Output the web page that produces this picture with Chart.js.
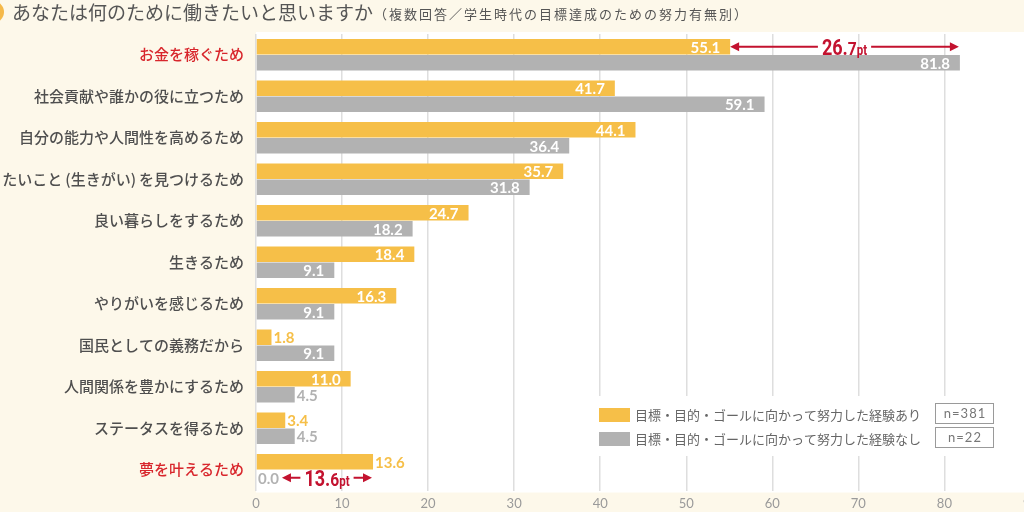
<!DOCTYPE html>
<html>
<head>
<meta charset="utf-8">
<script src="https://cdn.jsdelivr.net/npm/chart.js@4.4.1/dist/chart.umd.min.js"></script>
<style>
  html, body { margin: 0; padding: 0; width: 1024px; height: 512px; overflow: hidden; background: #fdf8ea; }
  #wrap { position: absolute; left: 0; top: 0; width: 1044px; height: 512px; }
</style>
</head>
<body>
<div id="wrap"><canvas id="barChart" width="1044" height="512" style="width:1044px;height:512px"></canvas></div>
<script>
const categories = [
    'お金を稼ぐため',
    '社会貢献や誰かの役に立つため',
    '自分の能力や人間性を高めるため',
    'やりたいこと\u2009(生きがい)\u2009を見つけるため',
    '良い暮らしをするため',
    '生きるため',
    'やりがいを感じるため',
    '国民としての義務だから',
    '人間関係を豊かにするため',
    'ステータスを得るため',
    '夢を叶えるため'
];
const withEffort = [55.1, 41.7, 44.1, 35.7, 24.7, 18.4, 16.3, 1.8, 11.0, 3.4, 13.6];
const withoutEffort = [81.8, 59.1, 36.4, 31.8, 18.2, 9.1, 9.1, 9.1, 4.5, 4.5, 0.0];
const seriesLabels = [
    '目標・目的・ゴールに向かって努力した経験あり',
    '目標・目的・ゴールに向かって努力した経験なし'
];
const sampleSizes = [381, 22];
const highlighted = [0, 10];
const xMax = 90;
const xStep = 10;

const titleMain = 'あなたは何のために働きたいと思いますか';
const titleSub = '（複数回答／学生時代の目標達成のための努力有無別）';

const seriesColors = ['#f6bf48', '#b2b2b2'];
const accent = '#c3122f';
const jpFont = '"Noto Sans CJK JP", "Noto Sans", sans-serif';
const numFont = 'Lato, "Open Sans", sans-serif';

function labelWidth(chart, text) {
    const ctx = chart.ctx;
    ctx.save();
    ctx.font = 'bold 15px ' + numFont;
    const w = ctx.measureText(text).width;
    ctx.restore();
    return w;
}

// value label goes inside the bar when there is room, except the last row (its arrow sits there)
function labelInside(chart, di, i) {
    const bar = chart.getDatasetMeta(di).data[i];
    const tw = labelWidth(chart, chart.data.datasets[di].data[i].toFixed(1));
    return (bar.x - bar.base) > tw + 20 && i !== categories.length - 1;
}

const plotBackground = {
    id: 'plotBackground',
    beforeDraw(chart) {
        const { ctx, chartArea: a } = chart;
        ctx.save();
        ctx.fillStyle = '#ffffff';
        ctx.fillRect(a.left, a.top - 2, chart.width - a.left, a.bottom - a.top + 4);

        // title
        ctx.fillStyle = '#f5b94a';
        ctx.beginPath();
        ctx.arc(-7, 12, 11, 0, Math.PI * 2);
        ctx.fill();
        ctx.fillStyle = '#555555';
        ctx.textBaseline = 'middle';
        ctx.textAlign = 'left';
        ctx.font = '19px ' + jpFont;
        ctx.fillText(titleMain, 12, 13);
        const w = ctx.measureText(titleMain).width;
        ctx.font = '13px ' + jpFont;
        ctx.letterSpacing = '2px';
        ctx.fillText(titleSub, 12 + w + 1, 14);
        ctx.restore();
    }
};

const valueLabels = {
    id: 'valueLabels',
    afterDatasetsDraw(chart) {
        const ctx = chart.ctx;
        ctx.save();
        ctx.font = 'bold 15px ' + numFont;
        ctx.textBaseline = 'middle';
        chart.data.datasets.forEach((ds, di) => {
            chart.getDatasetMeta(di).data.forEach((bar, i) => {
                const text = ds.data[i].toFixed(1);
                if (labelInside(chart, di, i)) {
                    ctx.fillStyle = '#ffffff';
                    ctx.textAlign = 'right';
                    ctx.fillText(text, bar.x - 10, bar.y + 1);
                } else {
                    ctx.fillStyle = seriesColors[di];
                    ctx.textAlign = 'left';
                    ctx.fillText(text, bar.x + 2, bar.y + 1);
                }
            });
        });
        ctx.restore();
    }
};

function arrowHead(ctx, x, y, dir) {
    ctx.beginPath();
    ctx.moveTo(x, y);
    ctx.lineTo(x - dir * 9, y - 4.5);
    ctx.lineTo(x - dir * 9, y + 4.5);
    ctx.closePath();
    ctx.fill();
}

const gapArrows = {
    id: 'gapArrows',
    afterDatasetsDraw(chart) {
        const ctx = chart.ctx;
        ctx.save();
        highlighted.forEach(i => {
            const vals = [withEffort[i], withoutEffort[i]];
            const s = vals[0] <= vals[1] ? 0 : 1;
            const shortBar = chart.getDatasetMeta(s).data[i];
            const longBar = chart.getDatasetMeta(1 - s).data[i];
            let x0 = shortBar.x;
            if (!labelInside(chart, s, i)) {
                x0 += 2 + labelWidth(chart, vals[s].toFixed(1)) + 3;
            }
            const x1 = longBar.x - 1;
            const y = shortBar.y;

            const diff = Math.abs(vals[1] - vals[0]).toFixed(1);
            const parts = diff.split('.');
            const big = parts[0] + '.';
            const small = parts[1];
            // condensed look: bold Roboto squeezed horizontally
            const sx = 0.82;
            const fBig = 'bold 22px Roboto, "Liberation Sans", sans-serif';
            const fMid = 'bold 19px Roboto, "Liberation Sans", sans-serif';
            const fPt = 'bold 14px Roboto, "Liberation Sans", sans-serif';
            ctx.font = fBig; const wBig = ctx.measureText(big).width * sx;
            ctx.font = fMid; const wMid = ctx.measureText(small).width * sx;
            ctx.font = fPt; const wPt = ctx.measureText('pt').width * sx;
            const tw = wBig + wMid + wPt;
            const cx = (x0 + x1) / 2;
            const tx = cx - tw / 2;

            ctx.strokeStyle = accent;
            ctx.fillStyle = accent;
            ctx.lineWidth = 2;
            ctx.beginPath();
            ctx.moveTo(x0 + 6, y);
            ctx.lineTo(tx - 4, y);
            ctx.moveTo(tx + tw + 4, y);
            ctx.lineTo(x1 - 6, y);
            ctx.stroke();
            arrowHead(ctx, x0, y, -1);
            arrowHead(ctx, x1, y, 1);

            ctx.textAlign = 'left';
            ctx.textBaseline = 'alphabetic';
            const base = y + 8;
            const draw = (font, text, x) => {
                ctx.save();
                ctx.font = font;
                ctx.translate(x, base);
                ctx.scale(sx, 1);
                ctx.fillText(text, 0, 0);
                ctx.restore();
            };
            draw(fBig, big, tx);
            draw(fMid, small, tx + wBig);
            draw(fPt, 'pt', tx + wBig + wMid);
        });
        ctx.restore();
    }
};

const boxLegend = {
    id: 'boxLegend',
    afterDatasetsDraw(chart) {
        const ctx = chart.ctx;
        ctx.save();
        ctx.fillStyle = '#ffffff';
        ctx.fillRect(588, 396, 412, 60);
        seriesLabels.forEach((label, k) => {
            const y = 415 + k * 24;
            ctx.fillStyle = seriesColors[k];
            ctx.fillRect(599, y - 7, 31, 14);
            ctx.fillStyle = '#666666';
            ctx.font = '13px ' + jpFont;
            ctx.textAlign = 'left';
            ctx.textBaseline = 'middle';
            ctx.fillText(label, 635, y);
            ctx.strokeStyle = '#9a9a9a';
            ctx.lineWidth = 1;
            ctx.strokeRect(935.5, y - 11.5, 58, 20);
            ctx.fillStyle = '#777777';
            ctx.font = '13px ' + numFont;
            ctx.letterSpacing = '1px';
            ctx.textAlign = 'center';
            ctx.fillText('n=' + sampleSizes[k], 965, y - 1);
            ctx.letterSpacing = '0px';
        });
        ctx.restore();
    }
};

const canvas = document.getElementById('barChart');
const ctx = canvas.getContext('2d');

new Chart(ctx, {
    type: 'bar',
    data: {
        labels: categories,
        datasets: [{
            label: seriesLabels[0],
            data: withEffort,
            backgroundColor: seriesColors[0],
            categoryPercentage: 0.77,
            barPercentage: 0.96
        }, {
            label: seriesLabels[1],
            data: withoutEffort,
            backgroundColor: seriesColors[1],
            categoryPercentage: 0.77,
            barPercentage: 0.96
        }]
    },
    options: {
        indexAxis: 'y',
        responsive: false,
        maintainAspectRatio: false,
        animation: false,
        devicePixelRatio: 1,
        layout: { padding: { top: 34, right: 10, left: 0, bottom: 0 } },
        scales: {
            x: {
                min: 0,
                max: xMax,
                ticks: {
                    stepSize: xStep,
                    color: '#9a9a9a',
                    padding: 6,
                    font: { family: numFont, size: 13 }
                },
                grid: { color: '#dedede', lineWidth: 1.5, drawTicks: false },
                border: { display: false },
                afterFit(scale) { scale.height = 21.5; }
            },
            y: {
                grid: { display: false, drawTicks: false },
                border: { display: false },
                ticks: {
                    padding: 12,
                    color: c => highlighted.includes(c.index) ? '#d8262c' : '#4f4f4f',
                    font: { family: jpFont, size: 15, weight: '500' }
                },
                afterFit(scale) { scale.width = 256; }
            }
        },
        plugins: {
            legend: { display: false },
            tooltip: { enabled: false }
        }
    },
    plugins: [plotBackground, valueLabels, gapArrows, boxLegend]
});
</script>
</body>
</html>
